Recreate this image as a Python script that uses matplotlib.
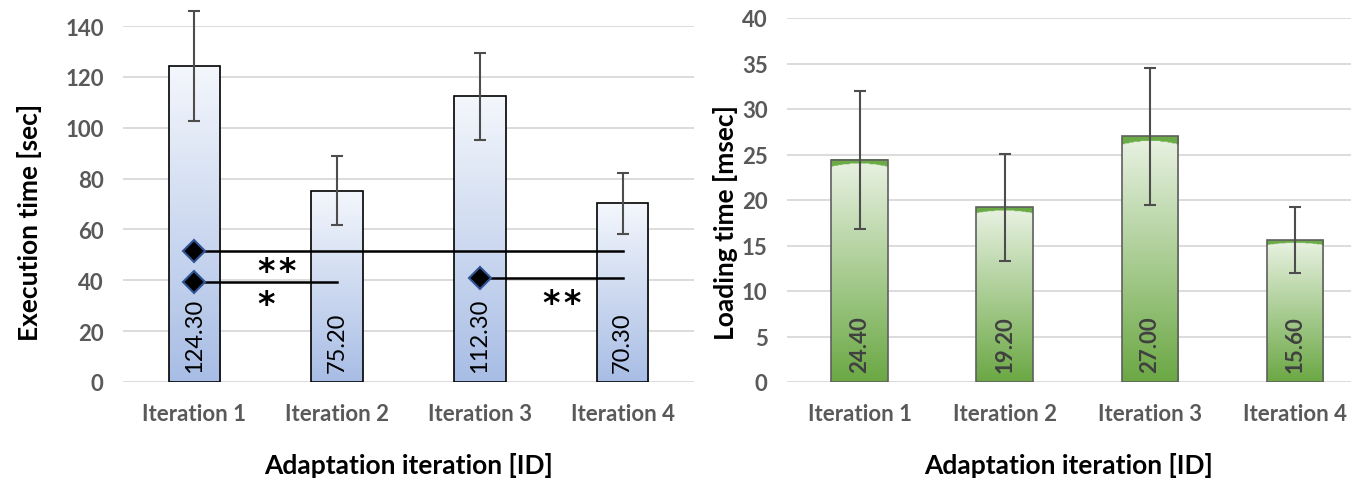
import numpy as np
import matplotlib
matplotlib.use("Agg")
import matplotlib.pyplot as plt
from matplotlib.colors import to_rgb

plt.rcParams['font.family'] = ['Lato', 'DejaVu Sans']

categories = ["Iteration 1", "Iteration 2", "Iteration 3", "Iteration 4"]
exec_vals = [124.30, 75.20, 112.30, 70.30]
exec_err = [21.5, 13.5, 17.2, 12.0]
load_vals = [24.40, 19.20, 27.00, 15.60]
load_err = [7.6, 5.9, 7.5, 3.6]
exec_labels = ["124.30", "75.20", "112.30", "70.30"]
load_labels = ["24.40", "19.20", "27.00", "15.60"]
# significance brackets: (from index, to index, y level, text, text x, text y)
sig_lines = [(0, 3, 51.5, "*\u200a*", 0.58, 43.5), (0, 1, 39.5, "*", 0.50, 30.5), (2, 3, 41.0, "*\u200a*", 2.58, 31.0)]

fig = plt.figure(figsize=(13.51, 4.81), dpi=100)
ax1 = fig.add_axes([123/1351, 1-383/481, (694-123)/1351, (383-27)/481])
ax2 = fig.add_axes([787/1351, 1-383/481, (1351-787)/1351, (383-19)/481])

grid_c = "#D9D9D9"
tick_c = "#595959"


def style(ax, ymax, step):
    ax.set_ylim(0, ymax)
    ax.set_yticks(np.arange(0, ymax + 0.1, step))
    for s in ax.spines.values():
        s.set_visible(False)
    ax.tick_params(length=0, colors=tick_c, labelsize=16)
    ax.tick_params(axis="y", pad=14)
    ax.tick_params(axis="x", pad=15)
    ax.yaxis.grid(True, color=grid_c, linewidth=1.3)
    ax.set_axisbelow(True)


def grad_fill(ax, bars, top_c, bot_c, cap=None, zorder=2):
    tc = np.array(to_rgb(top_c))
    bc = np.array(to_rgb(bot_c))
    for b in bars:
        x0, y0 = b.get_x(), b.get_y()
        w, h = b.get_width(), b.get_height()
        n, m = 300, 40
        yy = np.linspace(h, 0, n)[:, None]
        xx = np.linspace(-1, 1, m)[None, :]
        t = (yy / h)
        img = bc[None, None, :] * (1 - t[..., None]) + tc[None, None, :] * t[..., None]
        img = np.broadcast_to(img, (n, m, 3)).copy()
        if cap is not None:
            cc, base, extra = cap
            thick = (base + extra * xx ** 2) * h
            mask = (h - yy) < thick
            img[mask] = np.array(to_rgb(cc))
        ax.imshow(img, extent=[x0, x0 + w, y0, y0 + h], aspect="auto",
                  interpolation="bilinear", zorder=zorder)


def finish(ax, ylabel, lx, ly):
    ax.set_xticks(x)
    ax.set_xticklabels(categories)
    for lab in ax.get_xticklabels() + ax.get_yticklabels():
        lab.set_fontweight("bold")
    ax.set_ylabel(ylabel, fontsize=19, fontweight="bold")
    ax.yaxis.set_label_coords(lx, ly)
    ax.set_xlabel("Adaptation iteration [ID]", fontsize=19, fontweight="bold", labelpad=20)


x = np.arange(len(categories))

# Left chart
style(ax1, 140, 20)
bars1 = ax1.bar(x, exec_vals, width=0.36, facecolor="none", edgecolor="black",
                linewidth=1.2, zorder=3)
grad_fill(ax1, bars1, "#F4F7FC", "#A8BDE5")
ax1.errorbar(x, exec_vals, yerr=exec_err, fmt="none", ecolor="#4D4D4D",
             elinewidth=1.5, capsize=4, capthick=1.5, zorder=4, clip_on=False)
for xi, lab in zip(x, exec_labels):
    ax1.text(xi, 3.8, lab, rotation=90, ha="center", va="bottom",
             fontsize=17, color="black", zorder=5)
for i0, i1, yv, txt, tx, ty in sig_lines:
    ax1.plot([x[i0], x[i1]], [yv, yv], color="black", linewidth=1.8, zorder=5)
    ax1.plot([x[i0]], [yv], marker="D", markersize=11, markerfacecolor="black",
             markeredgecolor="#2F5597", markeredgewidth=1.5, zorder=6)
    ax1.text(tx, ty, txt, ha="center", va="center", fontsize=24, fontweight="bold",
             color="black", zorder=6, family=["DejaVu Sans"])
ax1.set_xlim(-0.5, 3.5)
finish(ax1, "Execution time [sec]", -0.142, 0.45)

# Right chart
style(ax2, 40, 5)
bars2 = ax2.bar(x, load_vals, width=0.39, facecolor="none", edgecolor="#5F5F5F",
                linewidth=1.2, zorder=3)
grad_fill(ax2, bars2, "#E9F2E3", "#6BA844", cap=("#6AAB46", 0.018, 0.014))
ax2.errorbar(x, load_vals, yerr=load_err, fmt="none", ecolor="#4D4D4D",
             elinewidth=1.5, capsize=4, capthick=1.5, zorder=4)
for xi, lab in zip(x, load_labels):
    ax2.text(xi, 1.1, lab, rotation=90, ha="center", va="bottom",
             fontsize=16, fontweight="bold", color="#404040", zorder=5)
ax2.set_xlim(-0.5, 3.386)
finish(ax2, "Loading time [msec]", -0.087, 0.44)

fig.savefig("out.png", dpi=100)
